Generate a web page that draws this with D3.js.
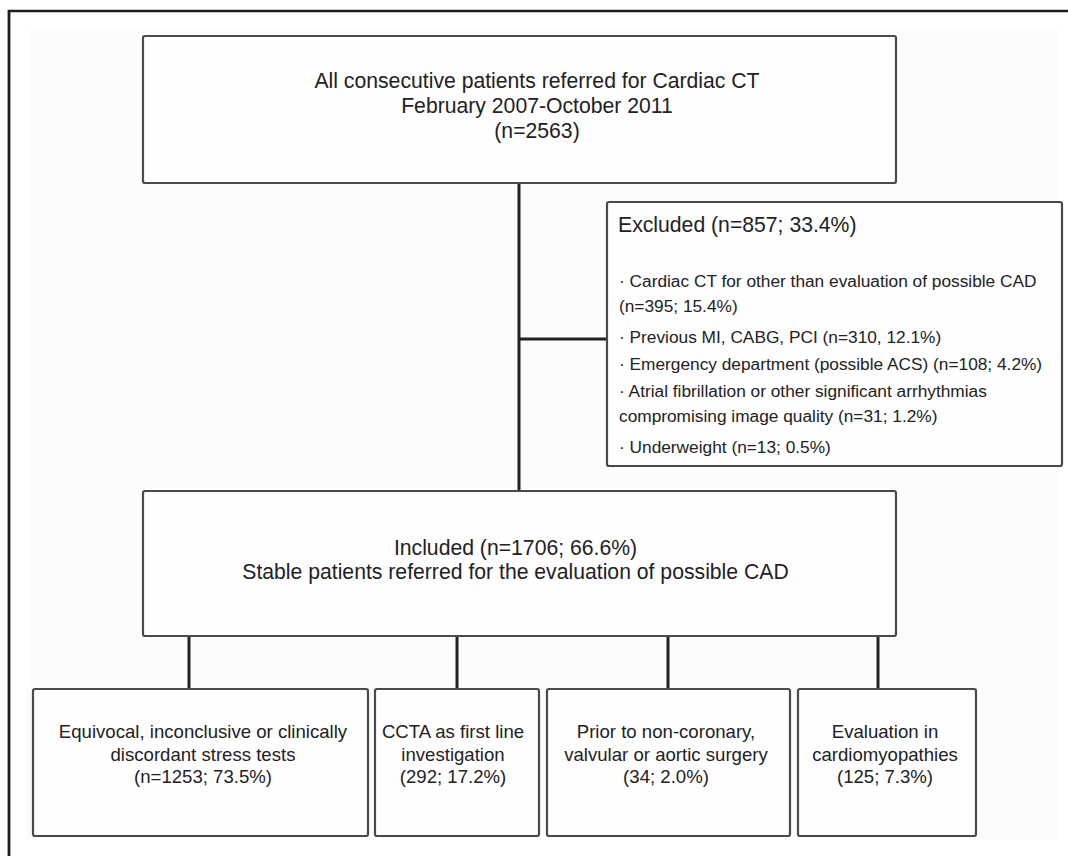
<!DOCTYPE html>
<html>
<head>
<meta charset="utf-8">
<script src="https://cdn.jsdelivr.net/npm/d3@7"></script>
<style>
  body { margin: 0; background: #fff; }
  text { font-family: "Liberation Sans", Arial, Helvetica, sans-serif; fill: #222; }
</style>
</head>
<body>
<div id="flow"></div>
<script>
// text content of the flow chart
var topLines = ["All consecutive patients referred for Cardiac CT", "February 2007-October 2011", "(n=2563)"];
var excludedTitle = "Excluded (n=857; 33.4%)";
var excludedLines = [
  "\u00b7 Cardiac CT for other than evaluation of possible CAD",
  "(n=395; 15.4%)",
  "\u00b7 Previous MI, CABG, PCI (n=310, 12.1%)",
  "\u00b7 Emergency department (possible ACS) (n=108; 4.2%)",
  "\u00b7 Atrial fibrillation or other significant arrhythmias",
  "compromising image quality (n=31; 1.2%)",
  "\u00b7 Underweight (n=13; 0.5%)"
];
var includedLines = ["Included (n=1706; 66.6%)", "Stable patients referred for the evaluation of possible CAD"];
var groupLabels = [
  ["Equivocal, inconclusive or clinically", "discordant stress tests", "(n=1253; 73.5%)"],
  ["CCTA as first line", "investigation", "(292; 17.2%)"],
  ["Prior to non-coronary,", "valvular or aortic surgery", "(34; 2.0%)"],
  ["Evaluation in", "cardiomyopathies", "(125; 7.3%)"]
];

// layout (pixels)
var W = 1068, H = 856;
var topBox = {x0: 143, x1: 896, y0: 36, y1: 183, tx: 537, ty: [88, 113, 138]};
var exclBox = {x0: 607, x1: 1062, y0: 202, y1: 466, tx: 619, titleY: 232,
               ly: [287, 312, 343, 370, 397, 422, 453]};
var inclBox = {x0: 143, x1: 896, y0: 491, y1: 636, tx: 515.5, ty: [555, 579]};
var groupBoxes = [
  {x0: 33, x1: 368, stem: 189, tx: 203},
  {x0: 375, x1: 539, stem: 457, tx: 453},
  {x0: 547, x1: 790, stem: 668, tx: 666},
  {x0: 798, x1: 976, stem: 878, tx: 885}
];
var groupY0 = 689, groupY1 = 836, groupTy = [738, 760.5, 783];
var mainStemX = 519, branchY = 339;

var svg = d3.select("#flow")
  .append("svg")
    .attr("width", W)
    .attr("height", H);

// faint paper area + outer frame lines
svg.append("rect")
  .attr("x", 27).attr("y", 30)
  .attr("width", 1033).attr("height", 809)
  .attr("fill", "#fcfcfc");

svg.append("line")
  .attr("x1", 8).attr("x2", W)
  .attr("y1", 11).attr("y2", 11)
  .attr("stroke", "#1e1e1e").attr("stroke-width", 2.5);
svg.append("line")
  .attr("x1", 9).attr("x2", 9)
  .attr("y1", 10).attr("y2", H)
  .attr("stroke", "#1e1e1e").attr("stroke-width", 2.8);

// connectors
var conn = svg.append("g")
  .attr("stroke", "#222")
  .attr("stroke-width", 3)
  .attr("fill", "none");

conn.append("line")
  .attr("x1", mainStemX).attr("x2", mainStemX)
  .attr("y1", topBox.y1).attr("y2", inclBox.y0);
conn.append("line")
  .attr("x1", mainStemX).attr("x2", exclBox.x0)
  .attr("y1", branchY).attr("y2", branchY);
conn.selectAll(".stem")
  .data(groupBoxes)
  .enter()
  .append("line")
    .attr("class", "stem")
    .attr("x1", function(d) { return d.stem })
    .attr("x2", function(d) { return d.stem })
    .attr("y1", inclBox.y1)
    .attr("y2", groupY0);

// boxes
var drawBox = function(b, y0, y1) {
  svg.append("rect")
    .attr("x", b.x0)
    .attr("y", y0)
    .attr("width", b.x1 - b.x0)
    .attr("height", y1 - y0)
    .attr("rx", 2)
    .attr("fill", "#fefefe")
    .attr("stroke", "#4a4a4a")
    .attr("stroke-width", 2.2);
}
drawBox(topBox, topBox.y0, topBox.y1);
drawBox(exclBox, exclBox.y0, exclBox.y1);
drawBox(inclBox, inclBox.y0, inclBox.y1);
groupBoxes.forEach(function(b) { drawBox(b, groupY0, groupY1) });

// top box text
svg.append("g")
  .selectAll("text")
  .data(topLines)
  .enter()
  .append("text")
    .attr("x", topBox.tx)
    .attr("y", function(d, i) { return topBox.ty[i] })
    .attr("text-anchor", "middle")
    .style("font-size", "21.2px")
    .text(function(d) { return d });

// excluded box
svg.append("text")
  .attr("x", exclBox.tx - 1)
  .attr("y", exclBox.titleY)
  .style("font-size", "21.2px")
  .text(excludedTitle);

svg.append("g")
  .selectAll("text")
  .data(excludedLines)
  .enter()
  .append("text")
    .attr("x", exclBox.tx)
    .attr("y", function(d, i) { return exclBox.ly[i] })
    .style("font-size", "17.3px")
    .text(function(d) { return d });

// included box
svg.append("g")
  .selectAll("text")
  .data(includedLines)
  .enter()
  .append("text")
    .attr("x", inclBox.tx)
    .attr("y", function(d, i) { return inclBox.ty[i] })
    .attr("text-anchor", "middle")
    .style("font-size", "21.2px")
    .text(function(d) { return d });

// sub-group boxes
var groups = svg.append("g")
  .selectAll("g")
  .data(groupLabels)
  .enter()
  .append("g");

groups.selectAll("text")
  .data(function(d, i) { return d.map(function(t) { return {t: t, g: i} }) })
  .enter()
  .append("text")
    .attr("x", function(d) { return groupBoxes[d.g].tx })
    .attr("y", function(d, j) { return groupTy[j] })
    .attr("text-anchor", "middle")
    .style("font-size", "18.6px")
    .text(function(d) { return d.t });
</script>
</body>
</html>
